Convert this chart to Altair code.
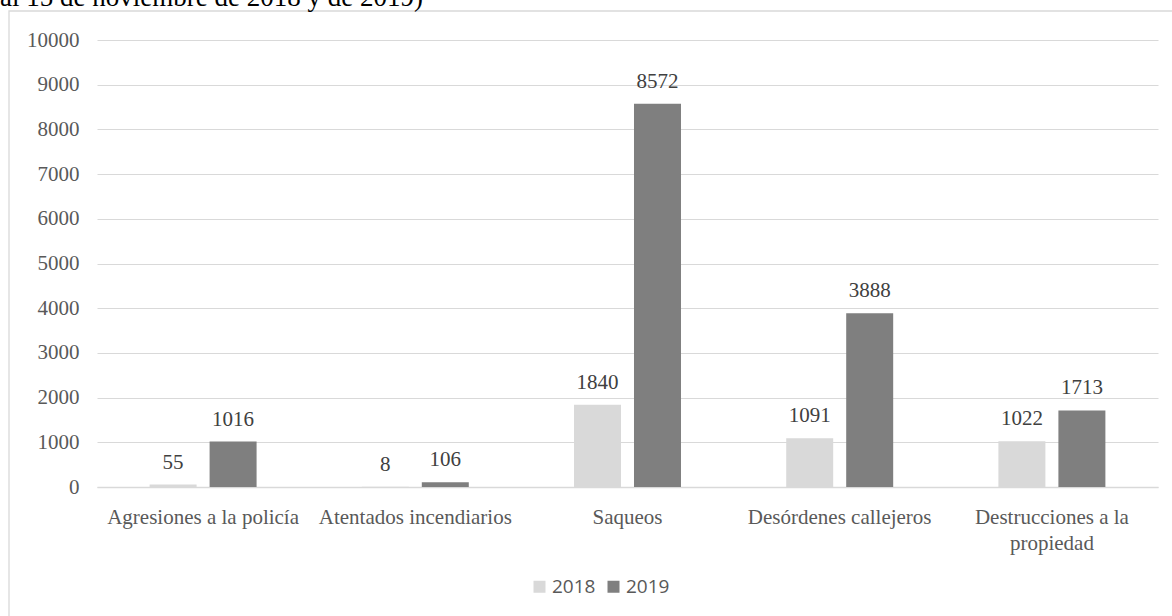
import altair as alt
import pandas as pd

categories = ["Agresiones a la policía", "Atentados incendiarios", "Saqueos",
              "Desórdenes callejeros", "Destrucciones a la propiedad"]
years = ["2018", "2019"]
values_2018 = [55, 8, 1840, 1091, 1022]
values_2019 = [1016, 106, 8572, 3888, 1713]
y_ticks = [0, 1000, 2000, 3000, 4000, 5000, 6000, 7000, 8000, 9000, 10000]
top_text = "al 15 de noviembre de 2018 y de 2019)"

rows = []
for c, a, b in zip(categories, values_2018, values_2019):
    rows.append({"cat": c, "year": "2018", "value": a})
    rows.append({"cat": c, "year": "2019", "value": b})
df = pd.DataFrame(rows)

W, H = 1061, 447
PL, PT = 97, 40
SERIF = "Liberation Serif"
GRAY = "#595959"

x_enc = alt.X("cat:N", sort=categories,
              scale=alt.Scale(paddingInner=0, paddingOuter=0),
              axis=alt.Axis(title=None, labelAngle=0, ticks=False, domain=True,
                            domainColor="#d9d9d9", domainWidth=1.3, grid=False,
                            labelFont=SERIF, labelFontSize=21, labelColor=GRAY,
                            labelPadding=19, labelLimit=400, labelLineHeight=26,
                            labelExpr="datum.value == 'Destrucciones a la propiedad' ? ['Destrucciones a la', 'propiedad'] : datum.value"))
xoff = alt.XOffset("year:N", sort=years,
                   scale=alt.Scale(paddingInner=0.2167, paddingOuter=0.877))
y_enc = alt.Y("value:Q", scale=alt.Scale(domain=[0, 10000], nice=False),
              axis=alt.Axis(title=None, values=y_ticks, format="d", grid=True,
                            gridColor="#d9d9d9", gridWidth=1.2, domain=False, ticks=False,
                            labelFont=SERIF, labelFontSize=21, labelColor=GRAY,
                            labelPadding=18))

bars = alt.Chart(df).mark_bar().encode(
    x=x_enc, xOffset=xoff, y=y_enc,
    color=alt.Color("year:N", sort=years,
                    scale=alt.Scale(domain=years, range=["#d9d9d9", "#7f7f7f"]),
                    legend=alt.Legend(title=None, orient="none", legendX=433, legendY=537,
                                      direction="horizontal", symbolType="square",
                                      symbolSize=144, symbolStrokeWidth=0,
                                      labelFont="Open Sans", labelFontSize=19,
                                      labelColor=GRAY, labelOffset=3,
                                      columnPadding=8, padding=0)),
)

labels = alt.Chart(df).mark_text(font=SERIF, fontSize=21, color="#404040",
                                 baseline="alphabetic", dy=-16).encode(
    x=alt.X("cat:N", sort=categories), xOffset=alt.XOffset("year:N", sort=years),
    y="value:Q", text="value:Q")

one = alt.Data(values=[{"a": 1}])
border = alt.Chart(one).mark_rect(filled=False, stroke="#d9d9d9", strokeWidth=1.3).encode(
    x=alt.value(9 - PL), x2=alt.value(1200 - PL), y=alt.value(11 - PT), y2=alt.value(650 - PT))
title = alt.Chart(one).mark_text(font=SERIF, fontSize=27, color="#000000",
                                 align="left", baseline="alphabetic").encode(
    x=alt.value(0 - PL), y=alt.value(6 - PT), text=alt.value(top_text))

chart = alt.layer(border, title, bars, labels).properties(
    width=W, height=H,
    autosize=alt.AutoSizeParams(type="none"),
    padding={"left": PL, "top": PT, "right": 1172 - PL - W, "bottom": 616 - PT - H},
).configure_view(stroke=None)

chart.save("out.html", embed_options={"renderer": "svg", "actions": False})
